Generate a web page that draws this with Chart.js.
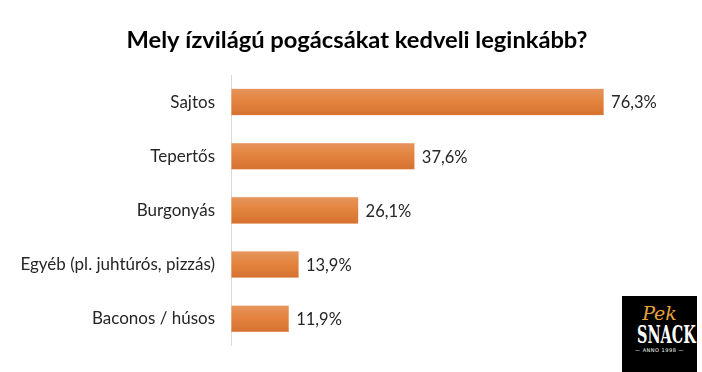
<!DOCTYPE html>
<html>
<head>
<meta charset="utf-8">
<script src="https://cdn.jsdelivr.net/npm/chart.js@4"></script>
<style>
  html, body { margin: 0; padding: 0; background: #fff; }
  #wrap { position: relative; width: 702px; height: 372px; }
  canvas { display: block; }
  #logo { position: absolute; left: 622px; top: 296px; width: 75px; height: 76px; background: #000; color: #fff; text-align: center; font-family: "DejaVu Serif", serif; overflow: hidden; }
  #logo .pek { color: #e8a33a; font-style: italic; font-size: 19px; line-height: 19px; margin-top: 8px; }
  #logo .snack { font-weight: bold; font-size: 24px; line-height: 23px; transform: scaleX(0.6); transform-origin: center; white-space: nowrap; }
  #logo .anno { font-family: "DejaVu Sans", sans-serif; font-size: 5px; line-height: 9px; letter-spacing: 0.5px; }
</style>
</head>
<body>
<div id="wrap">
<canvas id="c" width="702" height="372"></canvas>
<div id="logo"><div class="pek">Pek</div><div class="snack">SNACK</div><div class="anno">— ANNO 1998 —</div></div>
</div>
<script>
const categories = ["Sajtos", "Tepertős", "Burgonyás", "Egyéb (pl. juhtúrós, pizzás)", "Baconos / húsos"];
const values = [76.3, 37.6, 26.1, 13.9, 11.9];
const titleText = "Mely ízvilágú pogácsákat kedveli leginkább?";
const FONT = "Lato, 'Open Sans', sans-serif";

const titlePlugin = {
  id: 'customTitle',
  afterDraw(chart) {
    const ctx = chart.ctx;
    ctx.save();
    ctx.font = "bold 23.7px " + FONT;
    ctx.fillStyle = "#000";
    ctx.textAlign = "center";
    ctx.textBaseline = "middle";
    ctx.fillText(titleText, 357, 40);
    ctx.restore();
  }
};

const valueLabels = {
  id: 'valueLabels',
  afterDatasetsDraw(chart) {
    const ctx = chart.ctx;
    const meta = chart.getDatasetMeta(0);
    ctx.save();
    ctx.font = "16.5px " + FONT;
    ctx.fillStyle = "#262626";
    ctx.textAlign = "left";
    ctx.textBaseline = "middle";
    meta.data.forEach((bar, i) => {
      const txt = values[i].toFixed(1).replace('.', ',') + '%';
      ctx.fillText(txt, bar.x + 7, bar.y + 1);
    });
    ctx.restore();
  }
};

new Chart(document.getElementById('c'), {
  type: 'bar',
  data: {
    labels: categories,
    datasets: [{
      data: values,
      backgroundColor: (c) => {
        const ys = c.chart.scales && c.chart.scales.y;
        if (!ys) return '#e07f45';
        const cy = ys.getPixelForValue(c.dataIndex);
        const h = ys.height / categories.length * 0.25;
        if (!Number.isFinite(cy) || !Number.isFinite(h)) return '#e07f45';
        const g = c.chart.ctx.createLinearGradient(0, cy - h, 0, cy + h);
        g.addColorStop(0, '#e7955d');
        g.addColorStop(0.45, '#e3843f');
        g.addColorStop(1, '#d6712f');
        return g;
      },
      borderColor: '#f3c7a8',
      borderWidth: 0.5,
      borderSkipped: false,
      barPercentage: 0.5,
      categoryPercentage: 1.0
    }]
  },
  options: {
    indexAxis: 'y',
    responsive: false,
    animation: false,
    layout: { padding: { left: 0, right: 28, top: 75, bottom: 25 } },
    plugins: {
      legend: { display: false },
      tooltip: { enabled: false },
      title: { display: false }
    },
    scales: {
      x: { display: false, min: 0, max: 90.6 },
      y: {
        afterFit(scale) { scale.width = 231; },
        grid: { display: false, drawTicks: false },
        border: { display: true, color: '#d9d9d9', width: 1 },
        ticks: { color: '#262626', font: { family: FONT, size: 17 }, padding: 16 }
      }
    }
  },
  plugins: [titlePlugin, valueLabels]
});
</script>
</body>
</html>
